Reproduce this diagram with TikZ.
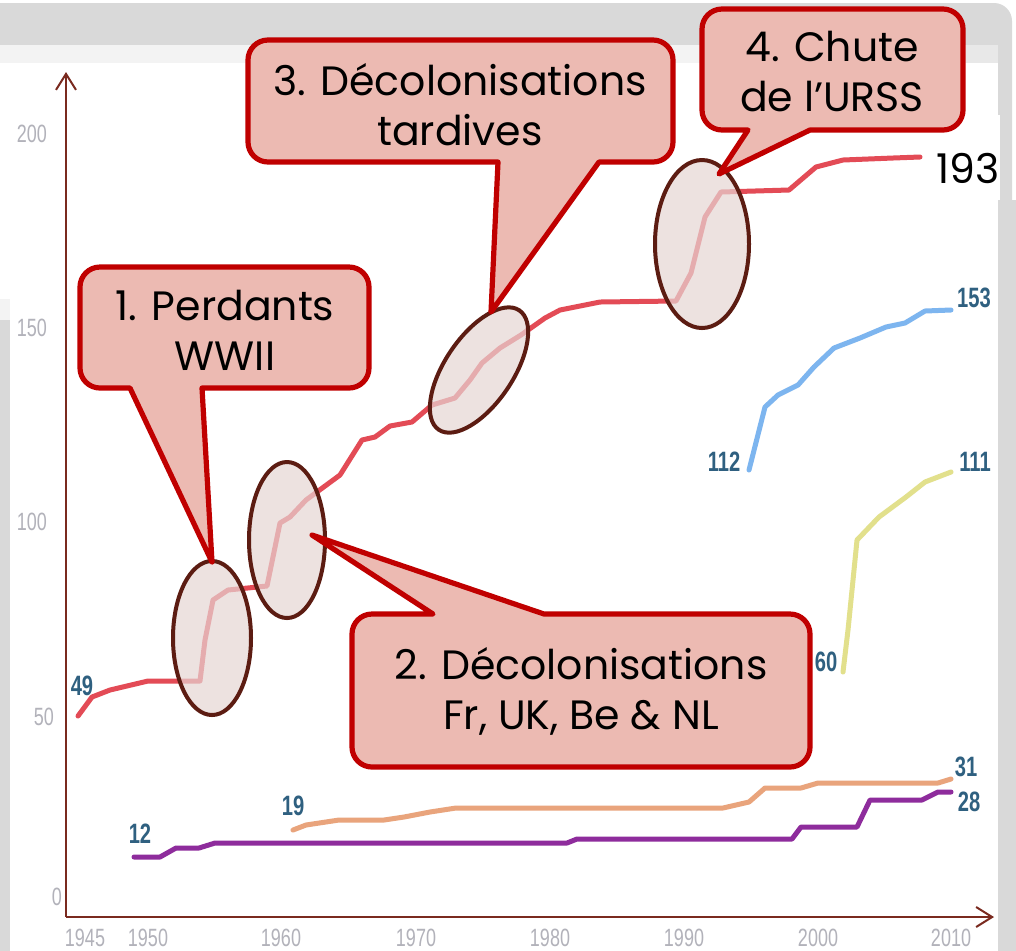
\documentclass[tikz,border=0pt]{standalone}
\usepackage{fontspec}
\usetikzlibrary{arrows.meta}
\newfontfamily\axisfont[FakeStretch=0.72]{Liberation Sans}
\newfontfamily\gothic{Poppins}
\definecolor{bggray}{HTML}{D9D9D9}
\definecolor{bglight}{HTML}{F3F3F3}
\definecolor{bgmid}{HTML}{E8E8E8}
\definecolor{axiscol}{HTML}{7A2A1F}
\definecolor{tickgray}{HTML}{B2B2BA}
\definecolor{valblue}{HTML}{2F6080}
\definecolor{bubblefill}{HTML}{ECBAB2}
\definecolor{bubbleline}{HTML}{C00000}
\definecolor{ringline}{HTML}{5C1C12}
\definecolor{ringfill}{HTML}{E6D6D4}
\definecolor{unred}{HTML}{E34B56}
\definecolor{unblue}{HTML}{7DB5EF}
\definecolor{unyellow}{HTML}{E2E08C}
\definecolor{unorange}{HTML}{E9A47C}
\definecolor{unpurple}{HTML}{8E2C9C}
\begin{document}
\begin{tikzpicture}[x=0.5pt,y=-0.5pt,
  dataline/.style={line width=2.5pt,line join=round,line cap=round},
  bubble/.style={fill=bubblefill,draw=bubbleline,line width=2.6pt,line join=round},
  bubbletext/.style={font=\gothic\fontsize{20.5}{25}\selectfont,align=center,text=black},
  ring/.style={draw=ringline,line width=2pt,fill=ringfill,fill opacity=0.7},
  ticklabel/.style={font=\axisfont\fontsize{12.5}{14}\selectfont,text=tickgray,inner sep=0pt},
  val/.style={font=\axisfont\bfseries\fontsize{14}{16}\selectfont,text=valblue,inner sep=0pt},
  axis/.style={draw=axiscol,line width=1pt,-{Straight Barb[length=8pt,width=10pt]}}]
\useasboundingbox (0,0) rectangle (1016,950);
% background of the screenshot
\fill[white] (0,0) rectangle (1016,950);
\fill[bggray,rounded corners=9pt] (-30,3) rectangle (1012,400);
\fill[bggray] (996,200) rectangle (1030,960);
\fill[bglight] (-30,45) rectangle (966,63);
\fill[bgmid] (966,45) rectangle (998,115);
\fill[white] (-30,63) rectangle (998,960);
\fill[white] (918,115) rectangle (1000,200);
\fill[bglight] (-30,299) rectangle (10,320);
\fill[bggray] (-30,320) rectangle (10,960);
% axes
\coordinate (origin) at (66,917);
\coordinate (ytop) at (66,72);
\coordinate (xend) at (994,917);
\draw[axis] (origin) -- (ytop);
\draw[axis] (origin) -- (xend);
\foreach \v/\px/\py in {200/32/134,150/32/328,100/32/522,50/44/717,0/57/897}
  \node[ticklabel] (tick\v) at (\px,\py) {\v};
\foreach \yr/\px in {1945/85,1950/148,1960/281,1970/416,1980/550,1990/684,2000/818,2010/951}
  \node[ticklabel] (year\yr) at (\px,938) {\yr};
% member counts
\draw[dataline,draw=unred] plot coordinates {(78,716) (92,697) (110,690) (148,681) (200,681) (205,640) (213,600) (228,590) (267,586) (280,523) (290,517) (306,500) (340,475) (362,440) (375,437) (390,426) (412,422) (432,405) (455,398) (470,380) (482,363) (500,348) (521,335) (545,318) (560,310) (600,302) (676,301) (691,273) (705,217) (721,192) (789,190) (816,167) (843,160) (893,158) (920,157)};
\draw[dataline,draw=unblue] plot coordinates {(749,470) (765,407) (778,395) (798,385) (814,367) (834,348) (860,338) (886,327) (905,323) (925,311) (951,310)};
\draw[dataline,draw=unyellow] plot coordinates {(843,672) (848,630) (857,540) (879,517) (906,497) (925,482) (951,472)};
\draw[dataline,draw=unorange] plot coordinates {(293,830) (306,825) (339,820) (384,820) (404,817) (430,812) (456,808) (723,808) (749,802) (765,788) (801,788) (818,783) (938,783) (951,779)};
\draw[dataline,draw=unpurple] plot coordinates {(134,857) (160,857) (176,848) (199,848) (215,843) (567,843) (577,839) (792,839) (801,827) (857,827) (870,800) (922,800) (938,792) (951,792)};
\foreach \n/\px/\py in {49/82/686,12/140/834,19/293/806,60/826/662,112/724/462,153/974/298,111/975/462,31/966/767,28/969/802}
  \node[val] (val\n) at (\px,\py) {\n};
% highlighted periods
\draw[ring] (212,638) ellipse [x radius=39, y radius=77];
\draw[ring] (287,540) ellipse [x radius=38, y radius=78];
\draw[ring,rotate around={56:(479,370)}] (479,370) ellipse [x radius=72, y radius=34];
\draw[ring] (702,244) ellipse [x radius=47, y radius=84];
% callouts
\draw[bubble] (212,562) -- (202,388) [rounded corners=10pt] -- (369,388) -- (369,267) -- (80,267) -- (80,388) [sharp corners] -- (130,388) -- cycle;
\draw[bubble] (312,535) -- (433,614) [rounded corners=10pt] -- (352,614) -- (352,767) -- (810,767) -- (810,614) [sharp corners] -- (544,614) -- cycle;
\draw[bubble] (491,312) -- (498,162) [rounded corners=10pt] -- (248,162) -- (248,40) -- (673,40) -- (673,162) [sharp corners] -- (599,162) -- cycle;
\draw[bubble] (719,174) -- (748,130) [rounded corners=10pt] -- (702,130) -- (702,9) -- (963,9) -- (963,130) [sharp corners] -- (810,130) -- cycle;
\node[bubbletext] (perdants) at (225,330) {1. Perdants\\WWII};
\node[bubbletext] (decolo) at (581,691) {2. Décolonisations\\Fr, UK, Be \& NL};
\node[bubbletext] (tardives) at (460,105) {3. Décolonisations\\tardives};
\node[bubbletext] (urss) at (832,72) {4. Chute\\de l’URSS};
\node[font=\gothic\fontsize{20.5}{25}\selectfont,text=black] (total) at (968,168) {193};
\end{tikzpicture}
\end{document}
